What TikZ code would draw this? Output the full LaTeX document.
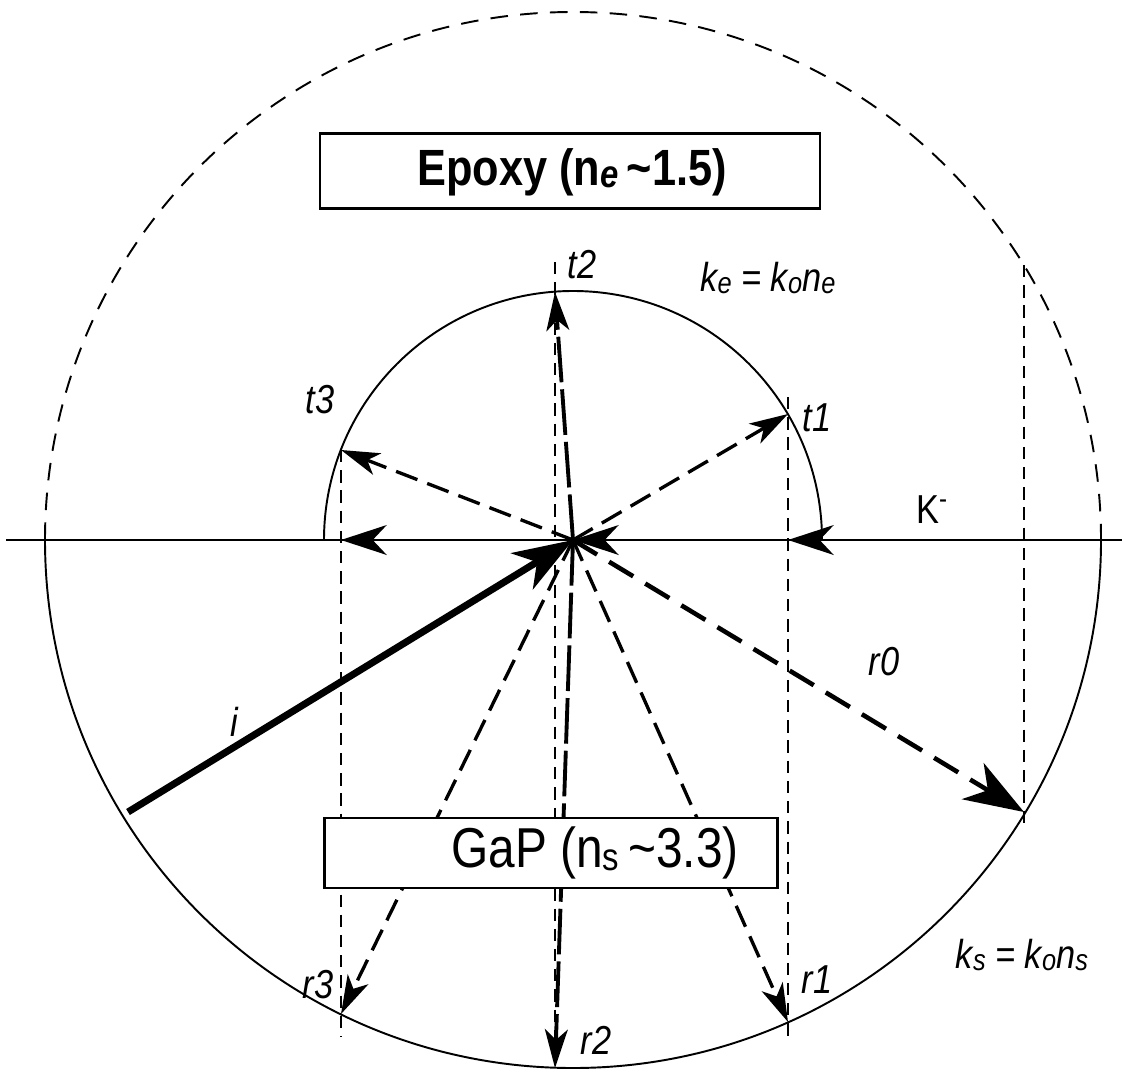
\documentclass[tikz,border=0pt]{standalone}
\usepackage{fontspec}
\setmainfont[FakeStretch=0.85]{Liberation Sans}
\usetikzlibrary{arrows.meta}
\newcommand\lsub[1]{\raisebox{-0.1ex}{\fontsize{17}{17}\selectfont #1}}
\newcommand\bsub[1]{\raisebox{-0.1ex}{\fontsize{22}{22}\selectfont #1}}
\begin{document}
\begin{tikzpicture}[x=0.02cm,y=-0.02cm,
  thinln/.style={line width=1.1pt},
  vdash/.style={line width=1.1pt, dash pattern=on 7pt off 4.5pt},
  bigdash/.style={line width=1.1pt, dash pattern=on 10pt off 7pt},
  vecdash/.style={line width=1.9pt, dash pattern=on 13pt off 6pt},
  lab/.style={font=\fontsize{23}{23}\selectfont\itshape, inner sep=0pt},
  boxn/.style={draw, line width=1.6pt, fill=white, inner sep=0pt},
  midtip/.style={-{Stealth[length=26pt,width=17pt,inset=8pt]}},
  smalltip/.style={-{Stealth[length=22pt,width=13pt,inset=6pt]}},
  bigtip/.style={-{Stealth[length=34pt,width=24pt,inset=10pt]}}
]
\useasboundingbox (0,0) rectangle (1124,1071);
% centre and points
\coordinate (O) at (573,540);
\coordinate (Lft) at (6,540);
\coordinate (Rgt) at (1122,540);
\coordinate (T1) at (788,414);
\coordinate (T2) at (555,292);
\coordinate (T3) at (341,450);
\coordinate (R1) at (788,1022);
\coordinate (R2) at (555,1068);
\coordinate (R3) at (341,1014);
\coordinate (I0) at (128,812);
\coordinate (R0) at (1024,812);
\coordinate (H1s) at (840,540);
\coordinate (H1) at (788,540);
\coordinate (H3s) at (392,540);
\coordinate (H3) at (341,540);
\coordinate (HOs) at (625,540);
% vertical projection lines
\coordinate (V3a) at (341,450);  \coordinate (V3b) at (341,1036);
\coordinate (V2a) at (555,262);  \coordinate (V2b) at (555,1062);
\coordinate (V1a) at (788,397);  \coordinate (V1b) at (788,1040);
\coordinate (V0a) at (1024,265); \coordinate (V0b) at (1024,830);
\draw[vdash] (V3a) -- (V3b);
\draw[vdash] (V2a) -- (V2b);
\draw[vdash] (V1a) -- (V1b);
\draw[vdash] (V0a) -- (V0b);
% circles
\draw[bigdash] (O) ++(-528,0) arc[start angle=180, end angle=360, radius=528];
\draw[thinln] (O) ++(528,0) arc[start angle=0, end angle=180, radius=528];
\draw[thinln] (O) ++(-249,0) arc[start angle=180, end angle=360, radius=249];
% horizontal axis
\draw[line width=1.4pt] (Lft) -- (Rgt);
\draw[line width=1.4pt, midtip] (H1s) -- (H1);
\draw[line width=1.4pt, midtip] (H3s) -- (H3);
\draw[line width=1.4pt, midtip] (HOs) -- (O);
% transmitted
\draw[vecdash, smalltip] (O) -- (T1);
\draw[vecdash, smalltip] (O) -- (T3);
\draw[line width=2.2pt, dash pattern=on 26pt off 4pt, smalltip] (O) -- (T2);
% reflected
\draw[vecdash, smalltip] (O) -- (R1);
\draw[vecdash, smalltip] (O) -- (R3);
\draw[line width=2.2pt, dash pattern=on 26pt off 4pt, smalltip] (O) -- (R2);
\draw[line width=2.6pt, dash pattern=on 16pt off 8pt, bigtip] (O) -- (R0);
% incident
\draw[line width=4pt, bigtip] (I0) -- (O);
% boxes
\node[boxn, minimum width=10cm, minimum height=1.5cm] (epoxybox) at (570,171) {};
\node[font=\fontsize{29}{29}\selectfont\bfseries, inner sep=0pt] (epoxytxt) at (572,172)
  {Epoxy (n\bsub{\itshape e}\,\textasciitilde1.5)};
\node[boxn, minimum width=9.06cm, minimum height=1.4cm] (gapbox) at (551,853) {};
\node[font=\fontsize{32}{32}\selectfont, inner sep=0pt] (gaptxt) at (595,853)
  {GaP (n\bsub{s}\,\textasciitilde3.3)};
% labels
\node[lab] (lt2) at (582,265) {t2};
\node[lab] (lke) at (768,278) {k\lsub{e} = k\lsub{o}n\lsub{e}};
\node[lab] (lt3) at (320,400) {t3};
\node[lab] (lt1) at (817,418) {t1};
\node[font=\fontsize{23}{23}\selectfont, inner sep=0pt] (lK) at (932,510) {K\textsuperscript{-}};
\node[lab] (lr0) at (884,662) {r0};
\node[lab] (li) at (234,722) {i};
\node[lab] (lr3) at (318,985) {r3};
\node[lab] (lr1) at (817,980) {r1};
\node[lab] (lr2) at (596,1040) {r2};
\node[lab] (lks) at (1022,955) {k\lsub{s} = k\lsub{o}n\lsub{s}};
\end{tikzpicture}
\end{document}
